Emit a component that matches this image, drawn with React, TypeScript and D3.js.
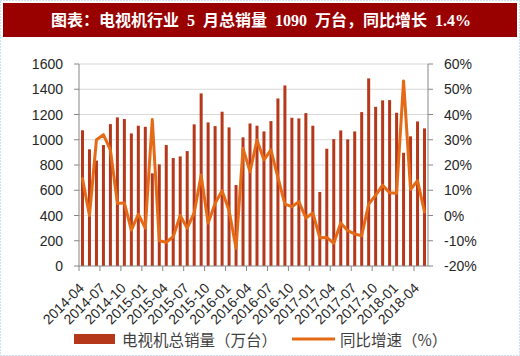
import React from "react";
import * as d3 from "d3";

const months: string[] = (() => {
  const out: string[] = [];
  for (let y = 2014, m = 4; out.length < 50; ) {
    out.push(`${y}-${String(m).padStart(2, "0")}`);
    m++;
    if (m > 12) { m = 1; y++; }
  }
  return out;
})();

const sales: number[] = [
  1075, 924, 835, 958, 1124, 1177, 1164, 1050, 1111, 1103,
  734, 805, 958, 855, 868, 910, 1122, 1367, 1137, 1108,
  1222, 1098, 641, 1019, 1129, 1111, 1066, 1148, 1327, 1430,
  1174, 1169, 1211, 1111, 586, 929, 1005, 1074, 1003, 1066,
  1219, 1486, 1261, 1312, 1314, 1214, 897, 1027, 1145, 1090,
];

const yoy: number[] = [
  14.6, 0, 30, 32, 26, 4.8, 5, -5.8, 0.5, -5,
  38, -10, -10.6, -8.4, 0, -5, 1, 16, -3, 4.8,
  9.8, 2, -13, 26.6, 17.4, 29.9, 22, 26, 15, 4.5,
  3.5, 5.5, -1, 1, -8.8, -8.7, -11, -3, -6, -7.3,
  -8, 4.5, 8, 12, 9, 8.8, 53.3, 10.3, 13.8, 1.4,
];

const leftTicks: number[] = [0, 200, 400, 600, 800, 1000, 1200, 1400, 1600];
const rightTicks: number[] = [-20, -10, 0, 10, 20, 30, 40, 50, 60];

const title = "图表：电视机行业 5 月总销量 1090 万台，同比增长 1.4%";
const legendBar = "电视机总销量（万台）";
const legendLine = "同比增速（%）";

const BAR = "#b5381a";
const LINE = "#e46a16";
const TXT = "#262626";
const FONT = "'Liberation Sans', Arial, sans-serif";
const CJK = "'Noto Sans CJK SC', sans-serif";

export default function App() {
  const W = 520, H = 356;
  const x0 = 79, x1 = 428, yTop = 64, yBot = 266;
  const x = d3.scaleBand<string>().domain(months).range([x0, x1]).padding(0);
  const yL = d3.scaleLinear().domain([0, 1600]).range([yBot, yTop]);
  const yR = d3.scaleLinear().domain([-20, 60]).range([yBot, yTop]);
  const bw = 3;
  const cx = (m: string) => (x(m) as number) + x.bandwidth() / 2;
  const line = d3
    .line<number>()
    .x((_, i) => cx(months[i]))
    .y((d) => yR(d));

  const labelIdx = months.map((_, i) => i).filter((i) => i % 3 === 0);
  const tickIdx = d3.range(0, months.length + 1, 3);

  return (
    <svg width={W} height={H} style={{ position: "absolute", left: 0, top: 0, background: "#fff" }}>
      <rect x={0.5} y={0.5} width={W - 1} height={H - 1} fill="none" stroke="#9cc2e5" strokeDasharray="1,2" />
      <rect x={3} y={3} width={514} height={34} fill="#990000" />
      <text
        x={261}
        y={20}
        textAnchor="middle"
        dominantBaseline="central"
        fill="#fff"
        fontSize={16}
        fontWeight="bold"
        style={{ fontFamily: "'Liberation Serif', " + CJK, wordSpacing: "4px" }}
      >
        {title}
      </text>

      {leftTicks.slice(1).map((t) => (
        <line key={"g" + t} x1={x0} x2={x1} y1={yL(t)} y2={yL(t)} stroke="#d9d9d9" strokeWidth={1} />
      ))}

      {sales.map((v, i) => (
        <rect key={"b" + i} x={cx(months[i]) - bw / 2} y={yL(v)} width={bw} height={yL(0) - yL(v)} fill={BAR} />
      ))}

      <path d={line(yoy) as string} fill="none" stroke={LINE} strokeWidth={3} strokeLinejoin="round" strokeLinecap="round" />

      <line x1={x0} x2={x0} y1={yTop} y2={yBot} stroke="#868686" />
      <line x1={x1} x2={x1} y1={yTop} y2={yBot} stroke="#868686" />
      <line x1={x0} x2={x1} y1={yBot} y2={yBot} stroke="#868686" />

      {leftTicks.map((t) => (
        <g key={"l" + t}>
          <line x1={x0 - 5} x2={x0} y1={yL(t)} y2={yL(t)} stroke="#868686" />
          <text x={63} y={yL(t)} textAnchor="end" dominantBaseline="central" fontSize={14} fill={TXT} fontFamily={FONT}>
            {t}
          </text>
        </g>
      ))}
      {rightTicks.map((t) => (
        <g key={"r" + t}>
          <line x1={x1} x2={x1 + 5} y1={yR(t)} y2={yR(t)} stroke="#868686" />
          <text x={444} y={yR(t)} textAnchor="start" dominantBaseline="central" fontSize={14} fill={TXT} fontFamily={FONT}>
            {t + "%"}
          </text>
        </g>
      ))}
      {tickIdx.map((i) => {
        const xx = x0 + i * x.step();
        return <line key={"t" + i} x1={xx} x2={xx} y1={yBot} y2={yBot + 5} stroke="#868686" />;
      })}
      {labelIdx.map((i) => (
        <text
          key={"x" + i}
          transform={`translate(${cx(months[i]) + 2.5},${289}) rotate(-45)`}
          textAnchor="end"
          fontSize={14}
          fill={TXT}
          fontFamily={FONT}
        >
          {months[i]}
        </text>
      ))}

      <rect x={74} y={334} width={41} height={10} fill={BAR} />
      <text x={122} y={339} dominantBaseline="central" fontSize={15.5} fill="#404040" fontFamily={CJK}>
        {legendBar}
      </text>
      <line x1={292} x2={335} y1={339} y2={339} stroke={LINE} strokeWidth={3} />
      <text x={340} y={339} dominantBaseline="central" fontSize={15.5} fill="#404040" fontFamily={CJK}>
        {legendLine}
      </text>
    </svg>
  );
}
